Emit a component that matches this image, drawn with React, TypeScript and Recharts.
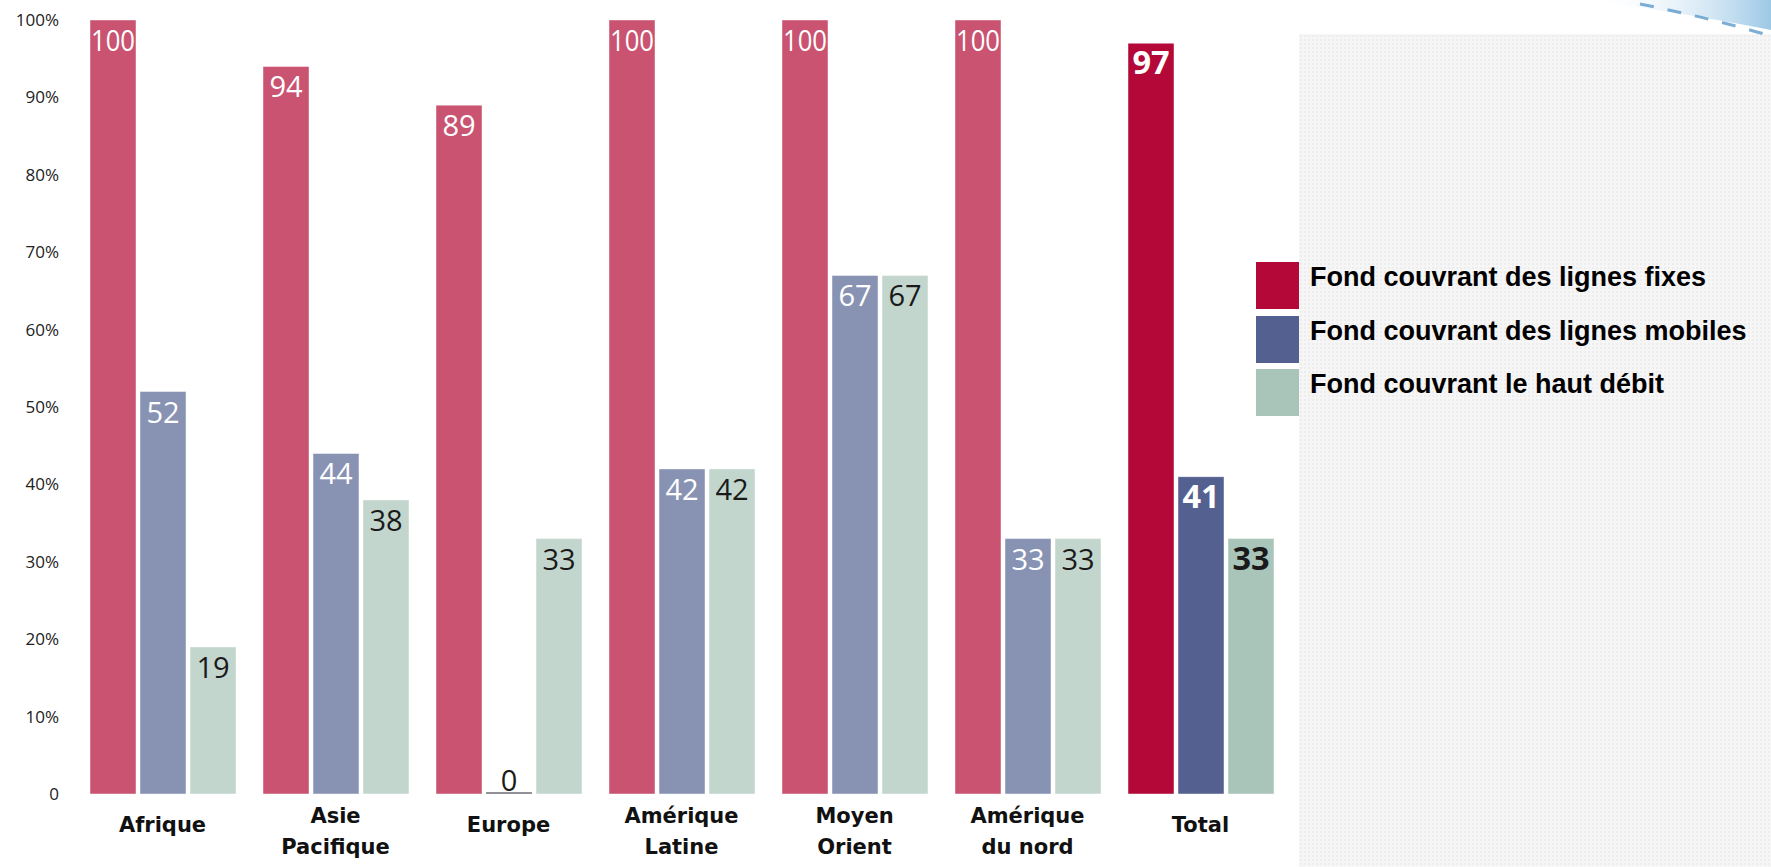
import React from 'react';
import { Bar, BarChart, Cell, LabelList, Legend, XAxis, YAxis } from 'recharts';

document.body.style.margin = '0';

// Données (en %)
const CATEGORIES = ['Afrique', 'Asie\nPacifique', 'Europe', 'Amérique\nLatine', 'Moyen\nOrient', 'Amérique\ndu nord', 'Total'];
const FIXES = [100, 94, 89, 100, 100, 100, 97];
const MOBILES = [52, 44, 0, 42, 67, 33, 41];
const HAUT_DEBIT = [19, 38, 33, 42, 67, 33, 33];
const Y_TICKS = [0, 10, 20, 30, 40, 50, 60, 70, 80, 90, 100];

const SERIES_NAMES = [
  'Fond couvrant des lignes fixes',
  'Fond couvrant des lignes mobiles',
  'Fond couvrant le haut débit',
];

// couleurs pâles pour les régions, soutenues pour le total
const LIGHT = ['#c95370', '#8893b3', '#c3d6cd'];
const DARK = ['#b30838', '#546190', '#a9c4b8'];
const LABEL_FILL = ['#ffffff', '#ffffff', '#1a1a1a'];

const data = CATEGORIES.map((name, i) => ({
  name,
  fixes: FIXES[i],
  mobiles: MOBILES[i],
  hautDebit: HAUT_DEBIT[i],
}));

const TOTAL_INDEX = CATEGORIES.length - 1;

function makeValueLabel(series: number) {
  return (props: any) => {
    const { x, y, width, height, value, index } = props;
    const cx = x + width / 2;
    if (Number(value) === 0) {
      const base = y + (height || 0);
      return (
        <g>
          <line x1={x} x2={x + width} y1={base - 1} y2={base - 1} stroke="#8a8a8a" strokeWidth={1.5} />
          <text x={cx} y={base - 3} textAnchor="middle" fontSize={29} fill="#1a1a1a" fontFamily="'Open Sans', sans-serif">
            0
          </text>
        </g>
      );
    }
    const isTotal = index === TOTAL_INDEX;
    const txt = String(value);
    const natural = txt.length * (isTotal ? 18.6 : 16.6);
    const fit = Math.min(natural, width - 2);
    return (
      <text
        x={cx}
        y={y + 31}
        textAnchor="middle"
        fontSize={isTotal ? 32 : 29}
        fontWeight={isTotal ? 700 : 400}
        fill={LABEL_FILL[series]}
        fontFamily="'Open Sans', sans-serif"
        textLength={fit}
        lengthAdjust="spacingAndGlyphs"
      >
        {txt}
      </text>
    );
  };
}

function CategoryTick(props: any) {
  const { x, y, payload } = props;
  const lines = String(payload.value).split('\n');
  const first = lines.length > 1 ? 29 : 38;
  return (
    <g>
      {lines.map((l, i) => (
        <text
          key={i}
          x={x}
          y={y + first + i * 31}
          textAnchor="middle"
          fontSize={21}
          fontWeight={700}
          fill="#111"
          fontFamily="'DejaVu Sans', Verdana, sans-serif"
        >
          {l}
        </text>
      ))}
    </g>
  );
}

function LegendBox({ payload }: any) {
  return (
    <div style={{ fontFamily: "'Liberation Sans', Arial, sans-serif" }}>
      {(payload || []).map((p: any, i: number) => (
        <div key={i} style={{ display: 'flex', alignItems: 'flex-start', height: 53.5 }}>
          <span style={{ width: 43, height: 47, background: p.color, flexShrink: 0 }} />
          <span style={{ marginLeft: 11, fontSize: 27, fontWeight: 700, lineHeight: '30px', color: '#000', whiteSpace: 'nowrap' }}>
            {p.value}
          </span>
        </div>
      ))}
    </div>
  );
}

export default function App() {
  const keys = ['fixes', 'mobiles', 'hautDebit'];
  return (
    <div style={{ position: 'relative', width: 1771, height: 867, overflow: 'hidden', background: '#fff' }}>
      {/* panneau gris pointillé derrière la légende */}
      <div
        style={{
          position: 'absolute',
          left: 1299,
          top: 34,
          right: 0,
          bottom: 0,
          backgroundColor: '#f6f6f6',
          backgroundImage: 'radial-gradient(#ededed 1px, transparent 1.2px)',
          backgroundSize: '4px 4px',
        }}
      />
      {/* bandeau bleu en haut à droite */}
      <svg style={{ position: 'absolute', left: 0, top: 0 }} width={1771} height={60}>
        <defs>
          <linearGradient id="swoosh" x1="0" y1="0" x2="1" y2="0">
            <stop offset="0" stopColor="#ffffff" stopOpacity="0" />
            <stop offset="1" stopColor="#9cc8e6" stopOpacity="1" />
          </linearGradient>
        </defs>
        <path d="M 1590 0 Q 1690 14 1771 30 L 1771 0 Z" fill="url(#swoosh)" />
        <path d="M 1640 4 Q 1710 18 1771 36" fill="none" stroke="#5d9acb" strokeWidth={3} strokeDasharray="14 14" opacity={0.8} />
      </svg>
      <div style={{ position: 'absolute', left: 0, top: 0 }}>
        <BarChart
          width={1771}
          height={867}
          data={data}
          margin={{ top: 20, right: 484, bottom: 0, left: 0 }}
          barSize={46}
          barGap={4}
        >
          <XAxis
            dataKey="name"
            axisLine={false}
            tickLine={false}
            tickSize={0}
            tickMargin={0}
            height={73}
            interval={0}
            tick={<CategoryTick />}
          />
          <YAxis
            domain={[0, 100]}
            ticks={Y_TICKS}
            axisLine={false}
            tickLine={false}
            tickSize={0}
            tickMargin={17}
            width={76}
            interval={0}
            tickFormatter={(v: number) => (v === 0 ? '0' : `${v}%`)}
            tick={{ fontSize: 17, fill: '#222', fontFamily: "'Open Sans', sans-serif" }}
          />
          <Legend
            layout="vertical"
            align="center"
            verticalAlign="middle"
            content={<LegendBox />}
            wrapperStyle={{ position: 'absolute', left: 1256, top: 262, width: 515 }}
          />
          {keys.map((k, s) => (
            <Bar
              key={k}
              dataKey={k}
              name={SERIES_NAMES[s]}
              fill={DARK[s]}
              stroke="#ffffff"
              strokeOpacity={0.45}
              strokeWidth={1}
              minPointSize={k === 'mobiles' ? 2 : 0}
              isAnimationActive={false}
            >
              {data.map((_, i) => (
                <Cell key={i} fill={i === TOTAL_INDEX ? DARK[s] : LIGHT[s]} />
              ))}
              <LabelList dataKey={k} content={makeValueLabel(s)} />
            </Bar>
          ))}
        </BarChart>
      </div>
    </div>
  );
}
